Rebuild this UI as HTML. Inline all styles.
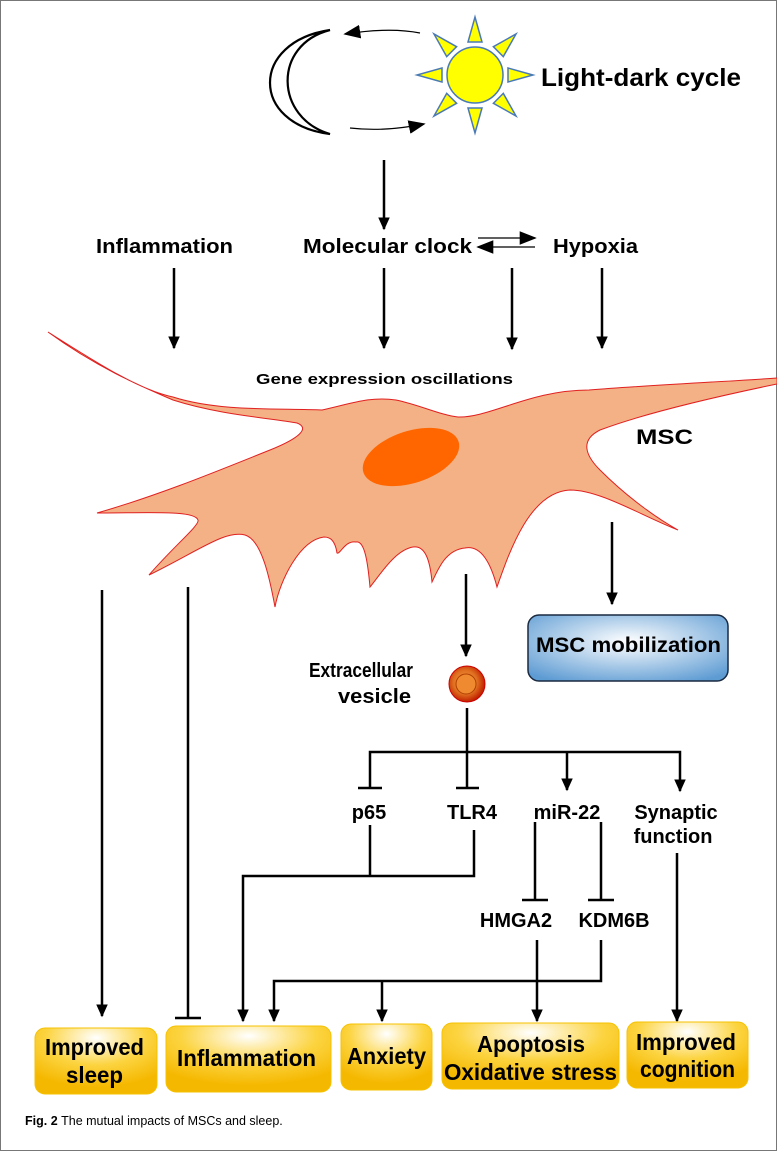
<!DOCTYPE html>
<html><head><meta charset="utf-8"><style>
body{margin:0;background:#fff}
svg{display:block}
text{font-family:"Liberation Sans",sans-serif;font-weight:bold;fill:#000}
</style></head><body>
<svg width="777" height="1151" viewBox="0 0 777 1151" xmlns="http://www.w3.org/2000/svg">
<defs>
<marker id="a" viewBox="0 0 10 10" refX="9" refY="5" markerWidth="13" markerHeight="13" markerUnits="userSpaceOnUse" orient="auto"><path d="M0,0.5L10,5L0,9.5z" fill="#000"/></marker>
<marker id="a2" viewBox="0 0 10 10" refX="9" refY="5" markerWidth="17" markerHeight="17" markerUnits="userSpaceOnUse" orient="auto"><path d="M0,1L10,5L0,9z" fill="#000"/></marker>
<radialGradient id="y" cx="50%" cy="15%" r="75%"><stop offset="0" stop-color="#fff"/><stop offset="0.55" stop-color="#fcd440"/><stop offset="1" stop-color="#f5b800"/></radialGradient>
<radialGradient id="b" cx="50%" cy="40%" r="70%"><stop offset="0" stop-color="#fff"/><stop offset="1" stop-color="#5d9bd3"/></radialGradient>
<radialGradient id="ev" cx="45%" cy="45%" r="55%"><stop offset="0" stop-color="#f5a050"/><stop offset="0.6" stop-color="#e07020"/><stop offset="1" stop-color="#c02000"/></radialGradient>
</defs>
<rect x="0.5" y="0.5" width="776" height="1150" fill="#fff" stroke="#777"/>
<!-- moon -->
<path d="M330,30 C250,42 250,124 330,134 C275,118 272,45 330,30z" fill="#fff" stroke="#000" stroke-width="2.2"/>
<!-- arrows around -->
<path d="M420,33 Q390,27 345,34" fill="none" stroke="#000" stroke-width="1.2" marker-end="url(#a2)"/>
<path d="M350,128 Q385,132 424,124" fill="none" stroke="#000" stroke-width="1.2" marker-end="url(#a2)"/>
<!-- sun -->
<g fill="#ffff00" stroke="#4a7ab5" stroke-width="1.5" transform="translate(475,75)">
<circle r="28"/>
<g id="r"><path d="M-7,-33L7,-33L0,-58z"/></g>
<use href="#r" transform="rotate(45)"/><use href="#r" transform="rotate(90)"/><use href="#r" transform="rotate(135)"/>
<use href="#r" transform="rotate(180)"/><use href="#r" transform="rotate(225)"/><use href="#r" transform="rotate(270)"/><use href="#r" transform="rotate(315)"/>
</g>
<text x="541" y="86" font-size="25" textLength="200" lengthAdjust="spacingAndGlyphs">Light-dark cycle</text>
<g stroke="#000" stroke-width="2.5" fill="none" marker-end="url(#a)">
<line x1="384" y1="160" x2="384" y2="229"/>
<line x1="174" y1="268" x2="174" y2="348"/>
<line x1="384" y1="268" x2="384" y2="348"/>
<line x1="512" y1="268" x2="512" y2="349"/>
<line x1="602" y1="268" x2="602" y2="348"/>
</g>
<g stroke="#000" stroke-width="1.2" marker-end="url(#a2)">
<line x1="478" y1="238" x2="535" y2="238"/>
<line x1="535" y1="247" x2="478" y2="247"/>
</g>
<text x="96" y="253" font-size="20" textLength="137" lengthAdjust="spacingAndGlyphs">Inflammation</text>
<text x="303" y="253" font-size="20" textLength="169" lengthAdjust="spacingAndGlyphs">Molecular clock</text>
<text x="553" y="253" font-size="20" textLength="85" lengthAdjust="spacingAndGlyphs">Hypoxia</text>
<!-- cell -->
<path d="M48,332 C100,365 140,390 173,397 C220,412 280,408 322,410 C350,404 370,396 396,400 C420,405 440,415 458,417 C490,418 530,390 589,390 C650,385 720,382 777,378 L777,384 C700,400 640,415 600,430 C580,440 585,455 600,470 C630,500 660,520 678,530 C640,515 600,490 570,490 C530,492 510,550 497,587 C490,560 480,545 465,548 C445,550 438,570 432,582 C430,560 425,545 413,547 C395,550 380,575 370,587 C368,565 365,540 356,542 C345,540 340,555 337,553 C335,540 330,537 324,537 C300,540 280,580 275,607 C270,580 262,540 245,535 C225,530 200,550 149,575 C175,545 200,525 198,520 C195,510 150,513 97,513 C160,495 220,470 270,450 C300,438 310,428 297,423 C270,418 220,415 173,400 C150,390 100,370 48,332z" fill="#f4b185" stroke="#e02020" stroke-width="1"/>
<ellipse cx="411" cy="457" rx="50" ry="26" transform="rotate(-18 411 457)" fill="#ff6600"/>
<text x="256" y="384" font-size="15" textLength="257" lengthAdjust="spacingAndGlyphs">Gene expression oscillations</text>
<text x="636" y="444" font-size="21" textLength="57" lengthAdjust="spacingAndGlyphs">MSC</text>
<!-- lower connectors -->
<g stroke="#000" stroke-width="2.5" fill="none">
<line x1="102" y1="590" x2="102" y2="1016" marker-end="url(#a)"/>
<line x1="188" y1="587" x2="188" y2="1018"/><line x1="175" y1="1018" x2="201" y2="1018"/>
<line x1="466" y1="574" x2="466" y2="656" marker-end="url(#a)"/>
<line x1="612" y1="522" x2="612" y2="604" marker-end="url(#a)"/>
<line x1="467" y1="708" x2="467" y2="752"/>
<polyline points="370,788 370,752 680,752 680,791" marker-end="url(#a)"/>
<line x1="358" y1="788" x2="382" y2="788"/>
<line x1="467" y1="752" x2="467" y2="788"/><line x1="456" y1="788" x2="479" y2="788"/>
<line x1="567" y1="752" x2="567" y2="790" marker-end="url(#a)"/>
<line x1="370" y1="825" x2="370" y2="876"/>
<polyline points="474,830 474,876 243,876 243,1021" marker-end="url(#a)"/>
<line x1="535" y1="822" x2="535" y2="900"/><line x1="522" y1="900" x2="548" y2="900"/>
<line x1="601" y1="822" x2="601" y2="900"/><line x1="588" y1="900" x2="614" y2="900"/>
<line x1="537" y1="940" x2="537" y2="1021" marker-end="url(#a)"/>
<polyline points="601,940 601,981 274,981 274,1021" marker-end="url(#a)"/>
<line x1="382" y1="981" x2="382" y2="1021" marker-end="url(#a)"/>
<line x1="677" y1="853" x2="677" y2="1021" marker-end="url(#a)"/>
</g>
<rect x="528" y="615" width="200" height="66" rx="11" fill="url(#b)" stroke="#1a2a40" stroke-width="1.5"/>
<text x="536" y="652" font-size="21" textLength="185" lengthAdjust="spacingAndGlyphs">MSC mobilization</text>
<circle cx="467" cy="684" r="18" fill="url(#ev)" stroke="#c00" stroke-width="1"/>
<circle cx="466" cy="684" r="10" fill="#f08a30" stroke="#b04000" stroke-width="1"/>
<text x="309" y="677" font-size="20" textLength="104" lengthAdjust="spacingAndGlyphs">Extracellular</text>
<text x="338" y="703" font-size="20" textLength="73" lengthAdjust="spacingAndGlyphs">vesicle</text>
<g font-size="20" text-anchor="middle">
<text x="369" y="819">p65</text>
<text x="472" y="819">TLR4</text>
<text x="567" y="819">miR-22</text>
<text x="676" y="819">Synaptic</text>
<text x="673" y="843">function</text>
<text x="516" y="927">HMGA2</text>
<text x="614" y="927">KDM6B</text>
</g>
<!-- bottom boxes -->
<g stroke="#f5c200" stroke-width="1">
<rect x="35" y="1028" width="122" height="66" rx="10" fill="url(#y)"/>
<rect x="166" y="1026" width="165" height="66" rx="10" fill="url(#y)"/>
<rect x="341" y="1024" width="91" height="66" rx="10" fill="url(#y)"/>
<rect x="442" y="1023" width="177" height="66" rx="10" fill="url(#y)"/>
<rect x="627" y="1022" width="121" height="66" rx="10" fill="url(#y)"/>
</g>
<g font-size="23" lengthAdjust="spacingAndGlyphs">
<text x="45" y="1055" textLength="99" lengthAdjust="spacingAndGlyphs">Improved</text>
<text x="66" y="1083" textLength="57" lengthAdjust="spacingAndGlyphs">sleep</text>
<text x="177" y="1066" textLength="139" lengthAdjust="spacingAndGlyphs">Inflammation</text>
<text x="347" y="1064" textLength="79" lengthAdjust="spacingAndGlyphs">Anxiety</text>
<text x="477" y="1052" textLength="108" lengthAdjust="spacingAndGlyphs">Apoptosis</text>
<text x="444" y="1080" textLength="173" lengthAdjust="spacingAndGlyphs">Oxidative stress</text>
<text x="636" y="1050" textLength="100" lengthAdjust="spacingAndGlyphs">Improved</text>
<text x="640" y="1077" textLength="95" lengthAdjust="spacingAndGlyphs">cognition</text>
</g>
<text x="25" y="1125" font-size="12.5">Fig. 2 <tspan font-weight="normal">The mutual impacts of MSCs and sleep.</tspan></text>
</svg>
</body></html>
